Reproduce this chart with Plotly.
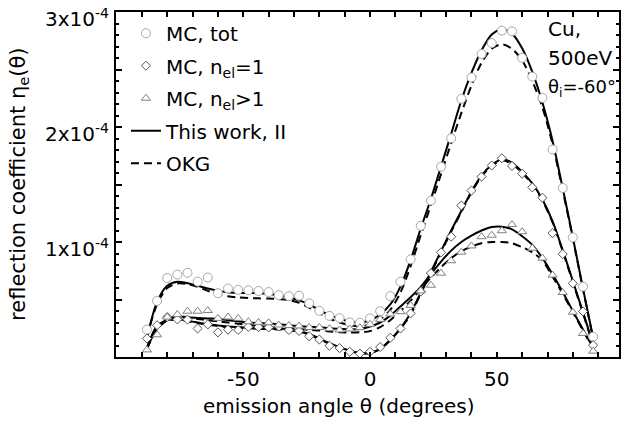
import plotly.graph_objects as go

# emission angles (degrees)
theta = [-88, -84, -80, -76, -72, -68, -64, -60, -56, -52, -48, -44, -40, -36, -32,
         -28, -24, -20, -16, -12, -8, -4, 0, 4, 8, 12, 16, 20, 24, 28,
         32, 36, 40, 44, 48, 52, 56, 60, 64, 68, 72, 76, 80, 84, 88]

# MC data (units of 1e-4)
mc_tot = [0.238, 0.487, 0.687, 0.717, 0.732, 0.655, 0.691, 0.555, 0.595, 0.584, 0.580, 0.574, 0.565, 0.538, 0.529,
          0.533, 0.467, 0.402, 0.358, 0.338, 0.301, 0.298, 0.336, 0.398, 0.529, 0.655, 0.849, 1.140, 1.360, 1.654,
          1.902, 2.245, 2.430, 2.635, 2.730, 2.838, 2.832, 2.601, 2.438, 2.253, 1.805, 1.470, 1.040, 0.612, 0.176]
mc_n1 = [0.161, 0.276, 0.347, 0.327, 0.325, 0.248, 0.283, 0.214, 0.238, 0.235, 0.261, 0.259, 0.257, 0.265, 0.235,
         0.227, 0.180, 0.152, 0.098, 0.077, 0.045, 0.030, 0.045, 0.087, 0.167, 0.248, 0.379, 0.569, 0.729, 0.910,
         1.046, 1.317, 1.447, 1.568, 1.665, 1.728, 1.661, 1.594, 1.475, 1.385, 1.077, 0.895, 0.640, 0.396, 0.103]
mc_n2 = [0.062, 0.193, 0.347, 0.370, 0.398, 0.398, 0.404, 0.336, 0.347, 0.336, 0.307, 0.301, 0.298, 0.278, 0.274,
         0.270, 0.257, 0.257, 0.246, 0.235, 0.244, 0.255, 0.284, 0.327, 0.374, 0.394, 0.449, 0.575, 0.624, 0.729,
         0.837, 0.912, 0.966, 1.046, 1.059, 1.098, 1.152, 1.089, 0.946, 0.860, 0.712, 0.561, 0.390, 0.205, 0.051]

# This work, II (solid)
tw_tot = [0.17, 0.48, 0.62, 0.655, 0.642, 0.62, 0.595, 0.575, 0.563, 0.558, 0.556, 0.555, 0.548, 0.535, 0.518,
          0.492, 0.458, 0.407, 0.364, 0.334, 0.308, 0.300, 0.317, 0.372, 0.458, 0.612, 0.843, 1.117, 1.374, 1.657,
          1.94, 2.23, 2.47, 2.667, 2.804, 2.851, 2.812, 2.684, 2.479, 2.213, 1.879, 1.468, 1.04, 0.595, 0.167]
tw_n1 = [0.08, 0.27, 0.32, 0.33, 0.315, 0.30, 0.285, 0.275, 0.265, 0.26, 0.255, 0.25, 0.248, 0.245, 0.238,
         0.225, 0.20, 0.16, 0.12, 0.085, 0.055, 0.035, 0.035, 0.07, 0.15, 0.25, 0.38, 0.56, 0.74, 0.92,
         1.10, 1.27, 1.44, 1.58, 1.67, 1.72, 1.69, 1.61, 1.51, 1.37, 1.18, 0.93, 0.66, 0.39, 0.11]
tw_n2 = [0.07, 0.25, 0.33, 0.355, 0.345, 0.34, 0.335, 0.33, 0.32, 0.31, 0.30, 0.295, 0.29, 0.285, 0.275,
         0.27, 0.262, 0.258, 0.25, 0.245, 0.24, 0.243, 0.265, 0.30, 0.36, 0.44, 0.52, 0.61, 0.72, 0.83,
         0.925, 1.00, 1.055, 1.10, 1.13, 1.133, 1.11, 1.05, 0.975, 0.86, 0.72, 0.565, 0.40, 0.24, 0.08]

# OKG (dashed)
okg_tot = [0.17, 0.46, 0.60, 0.64, 0.635, 0.61, 0.575, 0.545, 0.528, 0.518, 0.512, 0.51, 0.508, 0.503, 0.495,
           0.472, 0.43, 0.38, 0.335, 0.30, 0.277, 0.268, 0.28, 0.325, 0.41, 0.56, 0.79, 1.06, 1.32, 1.59,
           1.86, 2.12, 2.36, 2.56, 2.68, 2.72, 2.68, 2.58, 2.40, 2.17, 1.85, 1.45, 1.03, 0.59, 0.16]
okg_n1 = [0.08, 0.265, 0.315, 0.325, 0.31, 0.295, 0.28, 0.27, 0.26, 0.255, 0.25, 0.245, 0.243, 0.24, 0.233,
          0.22, 0.195, 0.155, 0.115, 0.08, 0.052, 0.033, 0.034, 0.068, 0.145, 0.245, 0.37, 0.55, 0.73, 0.91,
          1.09, 1.26, 1.43, 1.57, 1.66, 1.71, 1.68, 1.60, 1.50, 1.36, 1.17, 0.92, 0.65, 0.38, 0.10]
okg_n2 = [0.07, 0.24, 0.32, 0.345, 0.34, 0.33, 0.32, 0.31, 0.30, 0.29, 0.28, 0.27, 0.262, 0.255, 0.248,
          0.242, 0.236, 0.23, 0.222, 0.215, 0.213, 0.215, 0.225, 0.26, 0.32, 0.40, 0.49, 0.59, 0.69, 0.78,
          0.86, 0.92, 0.96, 0.99, 1.0, 1.0, 0.99, 0.955, 0.91, 0.84, 0.70, 0.55, 0.39, 0.23, 0.07]

y_tickvals = [0.5, 1.0, 1.5, 2.0, 2.5, 3.0]
y_ticktext = ["", "1x10<sup>-4</sup>", "", "2x10<sup>-4</sup>", "", "3x10<sup>-4</sup>"]
x_tickvals = [-50, 0, 50]
x_ticktext = ["-50", "0", "50"]

FONT = "DejaVu Sans"
FS = 20


def sc(vals):
    return [v / 1e4 for v in vals]


fig = go.Figure()

dash = "8px,5px"
for i, yv in enumerate([tw_tot, tw_n1, tw_n2]):
    fig.add_trace(go.Scatter(x=theta, y=sc(yv), mode="lines", name="This work, II",
                             legendgroup="tw", showlegend=(i == 0), legendrank=4,
                             line=dict(color="black", width=2, shape="spline", smoothing=0.8)))
for i, yv in enumerate([okg_tot, okg_n1, okg_n2]):
    fig.add_trace(go.Scatter(x=theta, y=sc(yv), mode="lines", name="OKG",
                             legendgroup="okg", showlegend=(i == 0), legendrank=5,
                             line=dict(color="black", width=2, dash=dash, shape="spline", smoothing=0.8)))

fig.add_trace(go.Scatter(x=theta, y=sc(mc_tot), mode="markers", name="MC, tot", legendrank=1,
                         legendgroup="g1",
                         marker=dict(symbol="circle", size=9, color="white",
                                     line=dict(color="#a8a8a8", width=1))))
fig.add_trace(go.Scatter(x=theta, y=sc(mc_n1), mode="markers", name="MC, n<sub>el</sub>=1", legendrank=2,
                         legendgroup="g2",
                         marker=dict(symbol="diamond", size=7, color="white",
                                     line=dict(color="#555555", width=1))))
fig.add_trace(go.Scatter(x=theta, y=sc(mc_n2), mode="markers", name="MC, n<sub>el</sub>>1", legendrank=3,
                         legendgroup="g3",
                         marker=dict(symbol="triangle-up", size=8, color="white",
                                     line=dict(color="#808080", width=1))))

ann_font = dict(family=FONT, size=FS, color="black")
fig.add_annotation(x=69.5, y=2.85e-4, text="Cu,", showarrow=False, xanchor="left", yanchor="middle", font=ann_font)
fig.add_annotation(x=69.5, y=2.60e-4, text="500eV", showarrow=False, xanchor="left", yanchor="middle", font=ann_font)
fig.add_annotation(x=69.5, y=2.335e-4, text="θ<sub>i</sub>=-60°", showarrow=False, xanchor="left", yanchor="middle",
                   font=dict(family=FONT, size=18, color="black"))

# axis titles
fig.add_annotation(xref="paper", yref="paper", x=(340 - 116) / 505, y=(357 - 407) / 351,
                   text="emission angle θ (degrees)", showarrow=False, xanchor="center", yanchor="middle",
                   font=ann_font)
fig.add_annotation(xref="paper", yref="paper", x=(18 - 116) / 505, y=0.5, textangle=-90,
                   text="reflection coefficient η<sub>e</sub>(θ)", showarrow=False, xanchor="center", yanchor="middle",
                   font=dict(family=FONT, size=21, color="black"))

fig.update_layout(
    width=626, height=428,
    margin=dict(l=116, r=5, t=6, b=71),
    paper_bgcolor="white", plot_bgcolor="white",
    font=dict(family=FONT, size=FS, color="black"),
    showlegend=True,
    legend=dict(x=(126 - 116) / 505, y=0.995, xanchor="left", yanchor="top", bgcolor="rgba(0,0,0,0)",
                font=dict(family=FONT, size=FS), traceorder="grouped", tracegroupgap=3.5, itemwidth=30),
    xaxis=dict(range=[-100.2, 98.2], tickmode="array", tickvals=x_tickvals, ticktext=x_ticktext,
               ticks="inside", ticklen=5, tickwidth=1.5, tickcolor="black",
               minor=dict(dtick=10, tick0=0, ticks="inside", ticklen=5, tickwidth=1.5, tickcolor="black", showgrid=False),
               showline=True, linewidth=2, linecolor="black", mirror="allticks",
               showgrid=False, zeroline=False, ticklabelstandoff=3),
    yaxis=dict(range=[0, 3.0e-4], tickmode="array", tickvals=sc(y_tickvals), ticktext=y_ticktext,
               ticks="inside", ticklen=6, tickwidth=1.5, tickcolor="black",
               minor=dict(dtick=1e-5, tick0=0, ticks="inside", ticklen=3, tickwidth=1.5, tickcolor="black", showgrid=False),
               showline=True, linewidth=2, linecolor="black", mirror="allticks",
               showgrid=False, zeroline=False, ticklabelstandoff=1, ticklabelshift=7,
               ticklabeloverflow="allow"),
)

fig.write_html("out.html")
